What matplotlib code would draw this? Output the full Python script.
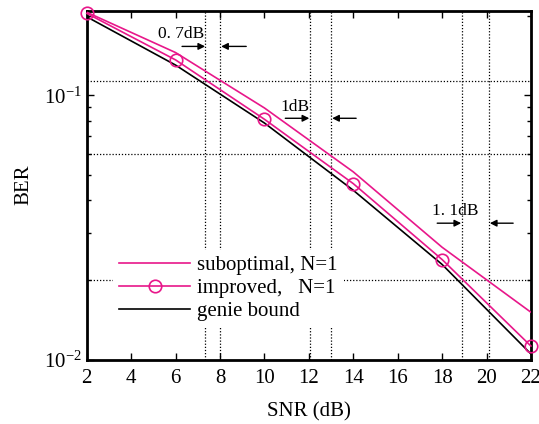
import matplotlib
matplotlib.use("Agg")
import matplotlib.pyplot as plt
from matplotlib.ticker import LogLocator, NullFormatter, FixedLocator

plt.rcParams['font.family'] = ['Liberation Serif', 'DejaVu Serif']
plt.rcParams['mathtext.fontset'] = 'stix'

snr = [2, 6, 10, 14, 18, 22]
ber_suboptimal = [0.206, 0.145, 0.0895, 0.0513, 0.0266, 0.0151]
ber_improved = [0.204, 0.136, 0.0811, 0.0463, 0.0239, 0.01125]
ber_genie = [0.198, 0.130, 0.0785, 0.0437, 0.0229, 0.0105]

labels = ['suboptimal, N=1', 'improved,   N=1', 'genie bound']

# annotation reference levels / positions
h_levels = [0.113, 0.06, 0.02]
v_lines = [7.33, 8.0, 12.05, 13.0, 18.9, 20.1]
gap_texts = ['0. 7dB', '1dB', '1. 1dB']
gap_text_pos = [(6.25, 0.170), (11.38, 0.0901), (18.59, 0.0364)]
arrow_y = [0.153, 0.0818, 0.0328]
arrow_right = [(6.29, 7.33), (10.94, 12.02), (17.78, 18.86)]
arrow_left = [(9.18, 8.05), (14.13, 13.05), (21.2, 20.15)]

magenta = '#E8178A'

fig = plt.figure(figsize=(5.39, 4.24), dpi=100)
ax = fig.add_axes([0.161, 0.152, 0.824, 0.823])

for yv in h_levels:
    ax.axhline(yv, color='black', linestyle=(0, (1, 1.5)), lw=0.9, zorder=1)
for xv in v_lines:
    ax.axvline(xv, color='black', linestyle=(0, (1, 1.5)), lw=0.9, zorder=1)

ax.plot(snr, ber_suboptimal, color=magenta, lw=1.2, label=labels[0], zorder=3)
ax.plot(snr, ber_improved, color=magenta, lw=1.2, marker='o', markersize=9,
        markerfacecolor='none', markeredgecolor=magenta, markeredgewidth=1.2,
        label=labels[1], zorder=3, clip_on=False)
ax.plot(snr, ber_genie, color='black', lw=1.2, label=labels[2], zorder=2)

for t, (tx, ty) in zip(gap_texts, gap_text_pos):
    ax.text(tx, ty, t, fontsize=12.5, ha='center', va='center', zorder=4)
for yv, (x0, x1) in zip(arrow_y, arrow_right):
    ax.annotate('', xy=(x1, yv), xytext=(x0, yv),
                arrowprops=dict(arrowstyle='-|>', color='black', lw=1.0,
                                mutation_scale=10, shrinkA=0, shrinkB=0))
for yv, (x0, x1) in zip(arrow_y, arrow_left):
    ax.annotate('', xy=(x1, yv), xytext=(x0, yv),
                arrowprops=dict(arrowstyle='-|>', color='black', lw=1.0,
                                mutation_scale=10, shrinkA=0, shrinkB=0))

ax.set_yscale('log')
ax.set_xlim(2, 22)
ax.set_ylim(0.01, 0.209)
ax.xaxis.set_major_locator(FixedLocator(list(range(2, 23, 2))))
ax.yaxis.set_major_locator(LogLocator(base=10, numticks=10))
ax.yaxis.set_minor_locator(LogLocator(base=10, subs=range(2, 10), numticks=20))
ax.yaxis.set_minor_formatter(NullFormatter())

ax.tick_params(which='both', direction='in', top=True, right=True, labelsize=15)
ax.tick_params(which='major', length=5, width=1.0)
ax.tick_params(which='minor', length=3, width=1.0)
ax.tick_params(axis='x', pad=7)
for s in ax.spines.values():
    s.set_linewidth(2.0)

ax.set_xlabel('SNR (dB)', fontsize=15, labelpad=10)
ax.set_ylabel('BER', fontsize=15, labelpad=8)

leg = ax.legend(loc='lower left', bbox_to_anchor=(0.059, 0.093), fontsize=15,
                frameon=True, fancybox=False, framealpha=1, borderaxespad=0,
                handlelength=3.4, handletextpad=0.35, labelspacing=0.15,
                borderpad=0.3)
leg.get_frame().set_edgecolor('none')
leg.get_frame().set_facecolor('white')
leg.set_zorder(5)

fig.savefig('out.png', dpi=100)
